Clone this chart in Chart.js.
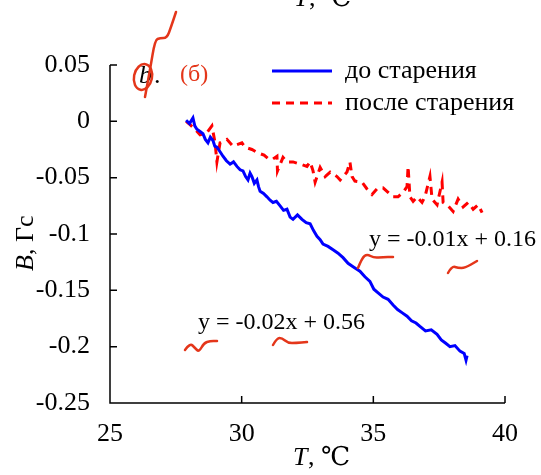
<!DOCTYPE html>
<html>
<head>
<meta charset="utf-8">
<script src="https://cdn.jsdelivr.net/npm/chart.js@4"></script>
<style>
  html, body { margin: 0; padding: 0; background: #fff; }
  #wrap { width: 541px; height: 475px; }
</style>
</head>
<body>
<div id="wrap"><canvas id="chart" width="541" height="475"></canvas></div>
<script>
// Temperature (T, °C) and field (B, Gs)
const tempBefore = [27.89, 28.02, 28.15, 28.22, 28.30, 28.42, 28.53, 28.62, 28.72, 28.81,
  28.91, 28.98, 29.06, 29.18, 29.29, 29.42, 29.56, 29.69, 29.82, 29.94,
  30.05, 30.15, 30.24, 30.32, 30.39, 30.48, 30.58, 30.64, 30.70, 30.83,
  30.96, 31.08, 31.19, 31.32, 31.46, 31.59, 31.72, 31.84, 31.95, 32.12,
  32.29, 32.45, 32.60, 32.73, 32.86, 32.98, 33.09, 33.28, 33.47, 33.66,
  33.85, 34.04, 34.23, 34.36, 34.49, 34.68, 34.87, 35.02, 35.17, 35.37,
  35.56, 35.75, 35.92, 36.10, 36.28, 36.45, 36.62, 36.77, 36.98, 37.20,
  37.42, 37.58, 37.75, 37.91, 38.10, 38.29, 38.45, 38.52, 38.56];
const fieldBefore = [0.001, -0.002, 0.003, -0.004, -0.007, -0.009, -0.011, -0.016, -0.019, -0.014,
  -0.017, -0.022, -0.023, -0.027, -0.031, -0.035, -0.038, -0.036, -0.040, -0.043,
  -0.044, -0.049, -0.052, -0.046, -0.049, -0.055, -0.052, -0.058, -0.062, -0.064,
  -0.067, -0.070, -0.072, -0.071, -0.075, -0.079, -0.078, -0.085, -0.087, -0.083,
  -0.087, -0.090, -0.091, -0.097, -0.102, -0.105, -0.109, -0.111, -0.114, -0.117,
  -0.121, -0.126, -0.129, -0.131, -0.133, -0.138, -0.142, -0.149, -0.152, -0.156,
  -0.158, -0.163, -0.167, -0.170, -0.173, -0.177, -0.179, -0.182, -0.186, -0.185,
  -0.189, -0.194, -0.197, -0.200, -0.199, -0.204, -0.206, -0.212, -0.208];

const tempAfter = [27.89, 28.04, 28.23, 28.42, 28.68, 28.87, 28.99, 29.06, 29.18, 29.44,
  29.67, 30.01, 30.13, 30.39, 30.62, 30.85, 31.00, 31.15, 31.34, 31.36,
  31.57, 31.72, 31.95, 32.22, 32.48, 32.60, 32.71, 32.79, 32.98, 33.17,
  33.36, 33.62, 33.74, 34.00, 34.11, 34.19, 34.30, 34.57, 34.76, 34.95,
  35.14, 35.37, 35.56, 35.75, 35.94, 36.13, 36.28, 36.32, 36.39, 36.51,
  36.66, 36.85, 36.96, 37.15, 37.23, 37.42, 37.61, 37.65, 37.84, 38.03,
  38.22, 38.41, 38.60, 38.79, 38.98, 39.13];
const fieldAfter = [0.000, -0.003, -0.007, -0.012, -0.010, -0.004, -0.019, -0.036, -0.019, -0.016,
  -0.022, -0.019, -0.023, -0.025, -0.028, -0.030, -0.033, -0.034, -0.031, -0.044,
  -0.032, -0.036, -0.036, -0.038, -0.040, -0.036, -0.044, -0.054, -0.041, -0.049,
  -0.045, -0.049, -0.052, -0.045, -0.036, -0.049, -0.053, -0.054, -0.060, -0.065,
  -0.060, -0.059, -0.063, -0.067, -0.067, -0.063, -0.058, -0.040, -0.067, -0.071,
  -0.067, -0.072, -0.067, -0.049, -0.069, -0.074, -0.054, -0.072, -0.075, -0.080,
  -0.069, -0.076, -0.072, -0.078, -0.074, -0.081];

const seriesNames = ['до старения', 'после старения'];
const xTicks = [25, 30, 35, 40];
const yTicks = [0.05, 0, -0.05, -0.1, -0.15, -0.2, -0.25];
const fitLabels = ['y = -0.01x + 0.16', 'y = -0.02x + 0.56'];

const serif = "'Liberation Serif', 'Times New Roman', 'DejaVu Serif', serif";
const markRed = '#e4361a';

function toPoints(xs, ys) {
  return xs.map((t, i) => ({ x: t, y: ys[i] }));
}

// smooth pen stroke through a few points (hand-drawn marks on the scan)
function squiggle(ctx, pts) {
  ctx.beginPath();
  ctx.moveTo(pts[0][0], pts[0][1]);
  for (let i = 1; i < pts.length - 1; i++) {
    const mx = (pts[i][0] + pts[i + 1][0]) / 2;
    const my = (pts[i][1] + pts[i + 1][1]) / 2;
    ctx.quadraticCurveTo(pts[i][0], pts[i][1], mx, my);
  }
  const last = pts[pts.length - 1];
  ctx.lineTo(last[0], last[1]);
  ctx.stroke();
}

const decor = {
  id: 'decor',
  afterDraw(chart) {
    const { ctx, chartArea: a, scales: { x, y } } = chart;
    ctx.save();

    // axes with inward ticks
    ctx.strokeStyle = '#000';
    ctx.lineWidth = 1.5;
    ctx.beginPath();
    ctx.moveTo(a.left, a.top);
    ctx.lineTo(a.left, a.bottom);
    ctx.lineTo(a.right, a.bottom);
    xTicks.forEach(v => {
      const px = x.getPixelForValue(v);
      ctx.moveTo(px, a.bottom);
      ctx.lineTo(px, a.bottom - 7);
    });
    yTicks.forEach(v => {
      const py = y.getPixelForValue(v);
      ctx.moveTo(a.left, py);
      ctx.lineTo(a.left + 7, py);
    });
    ctx.stroke();

    // legend
    const ds = chart.data.datasets;
    ds.forEach((d, i) => {
      const ly = 71 + i * 32;
      ctx.strokeStyle = d.borderColor;
      ctx.lineWidth = 3;
      ctx.setLineDash(d.borderDash || []);
      ctx.beginPath();
      ctx.moveTo(272, ly);
      ctx.lineTo(332, ly);
      ctx.stroke();
      ctx.setLineDash([]);
      ctx.fillStyle = '#000';
      ctx.font = '26px ' + serif;
      ctx.textBaseline = 'middle';
      ctx.textAlign = 'left';
      ctx.fillText(d.label, 345, ly);
    });

    // fit equations
    ctx.font = '24px ' + serif;
    ctx.fillStyle = '#000';
    ctx.textBaseline = 'middle';
    ctx.fillText(fitLabels[0], 369, 240);
    ctx.fillText(fitLabels[1], 198, 323);

    // panel mark
    ctx.font = 'italic 26px ' + serif;
    ctx.fillText('b', 139, 76);
    ctx.font = '26px ' + serif;
    ctx.fillText('.', 154, 76);
    ctx.fillStyle = markRed;
    ctx.font = '24px ' + serif;
    ctx.fillText('(б)', 180, 75);

    // axis titles
    ctx.fillStyle = '#000';
    ctx.textBaseline = 'alphabetic';
    ctx.font = 'italic 26px ' + serif;
    ctx.fillText('T', 293, 465);
    ctx.fillText('T', 294, 6);
    ctx.font = '26px ' + serif;
    ctx.fillText(', ℃', 308, 465);
    ctx.fillText(', ℃', 309, 6);

    ctx.save();
    ctx.translate(33, 271);
    ctx.rotate(-Math.PI / 2);
    ctx.font = 'italic 26px ' + serif;
    ctx.fillText('B', 0, 0);
    ctx.font = '26px ' + serif;
    ctx.fillText(', Гс', 16, 0);
    ctx.restore();

    // red pen marks on the scan
    ctx.strokeStyle = markRed;
    ctx.lineWidth = 2.5;
    ctx.lineCap = 'round';
    ctx.beginPath();
    ctx.ellipse(143, 77, 9, 13, 0.2, 0, Math.PI * 2);
    ctx.stroke();
    squiggle(ctx, [[145, 97], [150, 70], [155, 40], [160, 38], [167, 38], [171, 27], [176, 12]]);
    squiggle(ctx, [[358, 268], [362, 258], [367, 254], [374, 258], [383, 257], [393, 257]]);
    squiggle(ctx, [[448, 273], [452, 266], [458, 268], [465, 268], [477, 261]]);
    squiggle(ctx, [[185, 350], [190, 343], [195, 348], [199, 352], [204, 343], [210, 341], [217, 341]]);
    squiggle(ctx, [[273, 345], [277, 338], [282, 338], [288, 343], [296, 343], [307, 342]]);

    ctx.restore();
  }
};

new Chart(document.getElementById('chart'), {
  type: 'scatter',
  data: {
    datasets: [{
      label: seriesNames[0],
      data: toPoints(tempBefore, fieldBefore),
      showLine: true,
      borderColor: '#0000ff',
      borderWidth: 3,
      pointRadius: 0,
      tension: 0
    }, {
      label: seriesNames[1],
      data: toPoints(tempAfter, fieldAfter),
      showLine: true,
      borderColor: '#ff0000',
      borderWidth: 3,
      borderDash: [8, 6],
      pointRadius: 0,
      tension: 0
    }]
  },
  options: {
    responsive: false,
    animation: false,
    layout: { padding: { top: 65, right: 36, left: 0, bottom: 0 } },
    plugins: {
      legend: { display: false },
      tooltip: { enabled: false }
    },
    scales: {
      x: {
        type: 'linear',
        min: 25, max: 40,
        afterBuildTicks: s => { s.ticks = xTicks.map(v => ({ value: v })); },
        afterFit: s => { s.height = 72; },
        grid: { display: false, drawTicks: false },
        border: { display: false },
        ticks: { color: '#000', font: { family: serif, size: 26 }, padding: 16, maxRotation: 0 }
      },
      y: {
        type: 'linear',
        min: -0.25, max: 0.05,
        afterBuildTicks: s => { s.ticks = yTicks.map(v => ({ value: v })); },
        afterFit: s => { s.width = 110; },
        grid: { display: false, drawTicks: false },
        border: { display: false },
        ticks: {
          color: '#000', font: { family: serif, size: 26 }, padding: 20,
          callback: v => String(Number(v.toFixed(2)))
        }
      }
    }
  },
  plugins: [decor]
});
</script>
</body>
</html>
